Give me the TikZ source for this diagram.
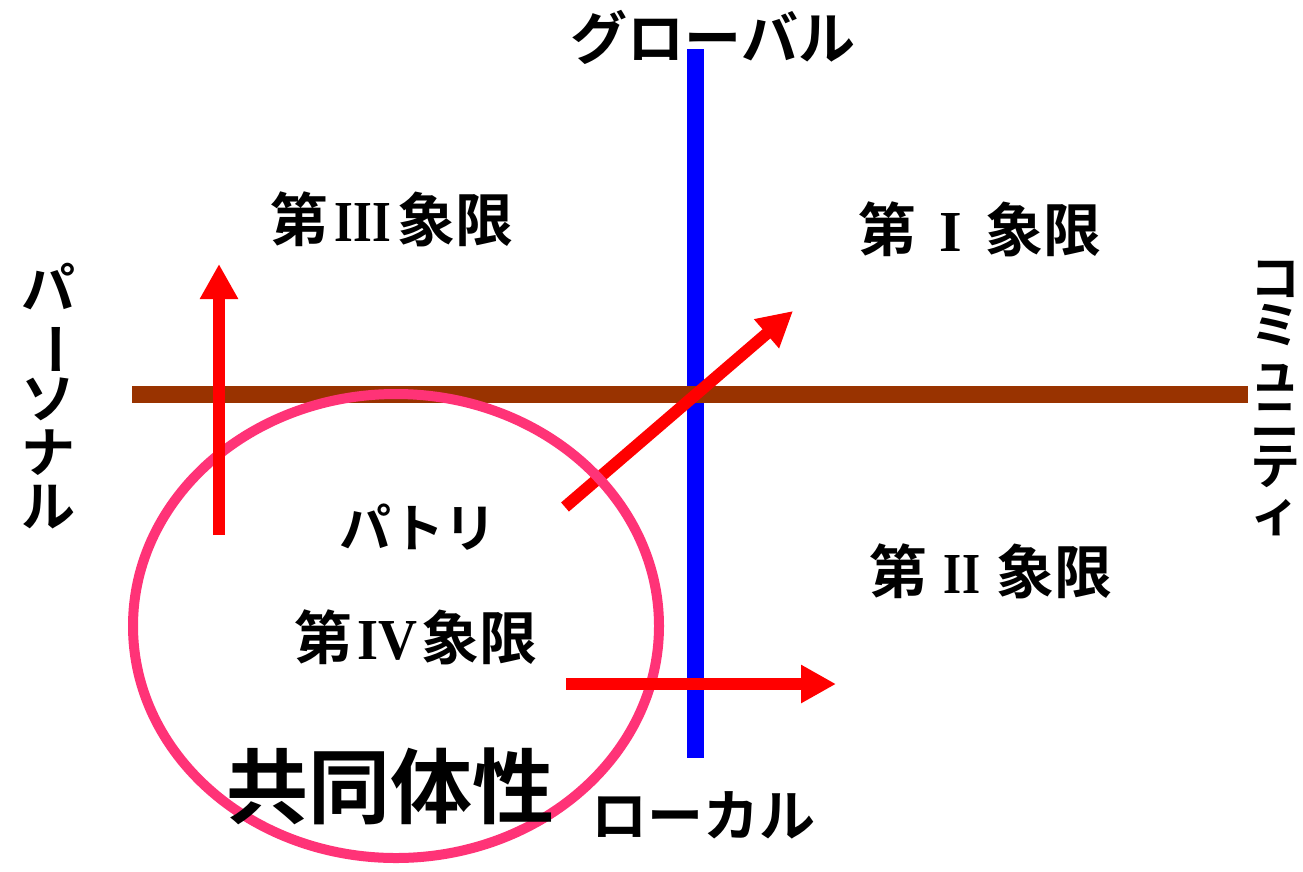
\documentclass[tikz,border=0pt]{standalone}
\usepackage{fontspec}
\usepackage{graphicx}
\usetikzlibrary{arrows.meta}
\newfontfamily\jp{Noto Sans CJK JP}[BoldFont={Noto Sans CJK JP Bold}]
\newfontfamily\romf{Liberation Serif}
\definecolor{axisbrown}{HTML}{993300}
\definecolor{axisblue}{HTML}{0000FF}
\definecolor{arrowred}{HTML}{FF0000}
\definecolor{ringpink}{HTML}{FF3377}
\newcommand{\rnum}[2]{\makebox[1.2em]{\romf\bfseries\scalebox{#1}[1]{#2}}}
\tikzset{
  vaxis/.style={draw=axisblue, line width=17pt},
  haxis/.style={draw=axisbrown, line width=17pt},
  redarrow/.style={draw=arrowred, line width=12pt, -{Triangle[length=35pt,width=36pt]}},
  ring/.style={draw=ringpink, line width=10pt},
  lbl/.style={font=\jp\bfseries\fontsize{58}{58}\selectfont, inner sep=0pt},
  axlbl/.style={font=\jp\bfseries\fontsize{56}{56}\selectfont, inner sep=0pt},
  vlbl/.style={align=center, inner sep=0pt},
}
\begin{document}
\begin{tikzpicture}[x=1pt,y=-1pt]
\useasboundingbox (0,0) rectangle (1303,871);
\fill[white] (0,0) rectangle (1303,871);
% axes
\coordinate (gtop) at (695.5,49);
\coordinate (lbot) at (695.5,758);
\coordinate (pleft) at (132,394.5);
\coordinate (cright) at (1248,394.5);
\draw[vaxis] (gtop) -- (lbot);
\draw[haxis] (pleft) -- (cright);
% diagonal arrow
\coordinate (d0) at (565,507);
\coordinate (d1) at (793,311);
\draw[redarrow] (d0) -- (d1);
% community ring
\coordinate (ringc) at (396,626);
\draw[ring] (ringc) ellipse [x radius=263, y radius=232];
% vertical arrow
\coordinate (v0) at (219,535);
\coordinate (v1) at (219,264);
\draw[redarrow] (v0) -- (v1);
% horizontal arrow
\coordinate (h0) at (566,684);
\coordinate (h1) at (836,684);
\draw[redarrow] (h0) -- (h1);
% axis labels
\node[axlbl, font=\jp\bfseries\fontsize{57}{57}\selectfont] (global) at (713,37) {グローバル};
\node[axlbl] (local) at (703,815) {ローカル};
\node[vlbl, font=\jp\bfseries\fontsize{54}{54}\selectfont] (personal) at (48,396) {パ\\\rotatebox[origin=c]{-90}{ー}\\ソ\\ナ\\ル};
\node[vlbl, font=\jp\bfseries\fontsize{50}{47}\selectfont] (community) at (1275,398) {コ\\ミ\\ュ\\ニ\\テ\\ィ};
% quadrant labels
\node[lbl] (q3) at (392,219) {第\rnum{0.83}{III}象限};
\node[lbl] (q1) at (980,229) {第\rnum{1}{I}象限};
\node[lbl] (q2) at (991,571) {第\rnum{0.8}{II}象限};
\node[lbl] (q4) at (416,637) {第\rnum{0.93}{IV}象限};
\node[lbl, font=\jp\bfseries\fontsize{52}{52}\selectfont] (patri) at (418,527) {パトリ};
\node[lbl, font=\jp\bfseries\fontsize{82}{82}\selectfont] (kyodo) at (390,786) {共同体性};
\end{tikzpicture}
\end{document}
